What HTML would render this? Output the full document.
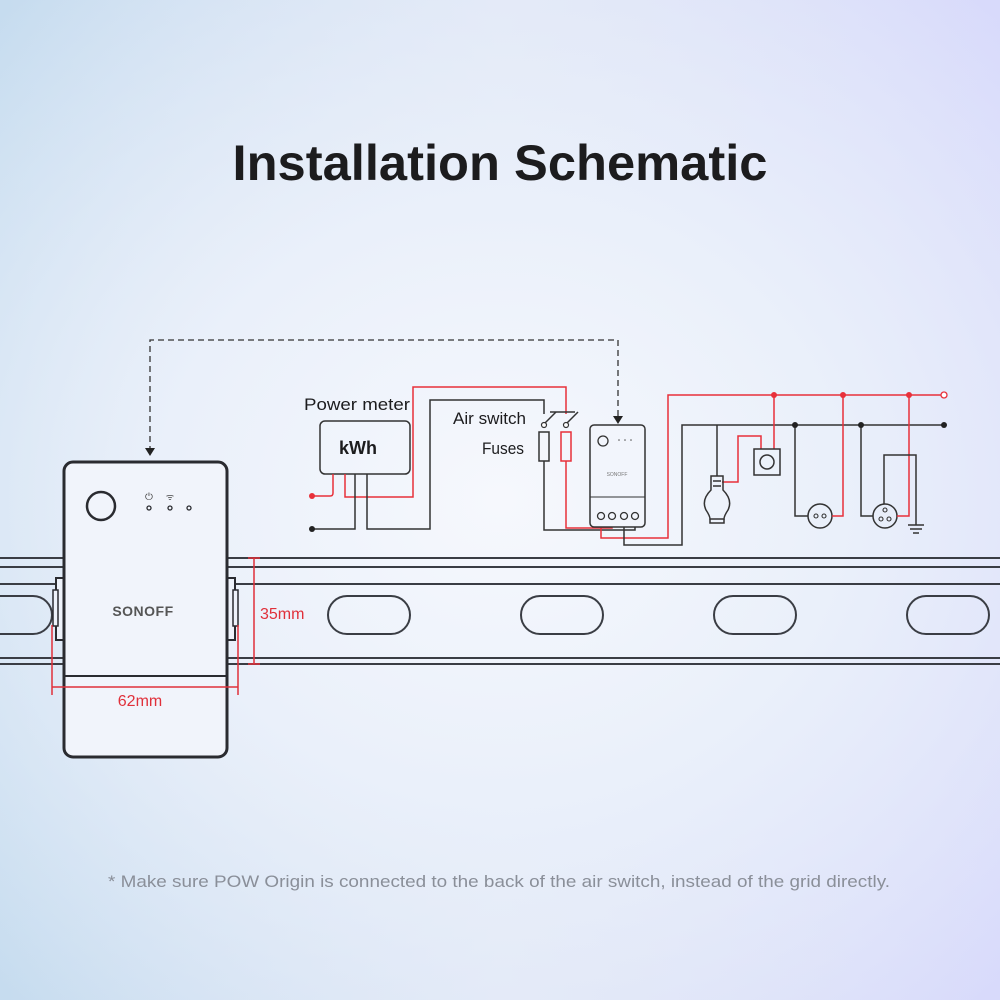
<!DOCTYPE html>
<html><head><meta charset="utf-8"><style>
html,body{margin:0;padding:0;width:1000px;height:1000px;overflow:hidden}
body{background:radial-gradient(ellipse 75% 65% at 50% 50%, #f6f8fd 0%, #eaf0fa 45%, rgba(234,240,250,0) 100%), linear-gradient(90deg,#c6dcef 0%,#dfe6f6 50%,#d8dafb 100%)}
svg{display:block}
text{font-family:"Liberation Sans",sans-serif}
</style></head><body>
<svg width="1000" height="1000" viewBox="0 0 1000 1000" xmlns="http://www.w3.org/2000/svg">
<text x="500" y="180" text-anchor="middle" font-size="50" font-weight="bold" fill="#1c1c1e" textLength="535" lengthAdjust="spacingAndGlyphs">Installation Schematic</text>

<!-- DIN rail -->
<g stroke="#3a3d44" stroke-width="2" fill="none">
<line x1="0" y1="558" x2="1000" y2="558"/>
<line x1="0" y1="567" x2="1000" y2="567"/>
<line x1="0" y1="584" x2="1000" y2="584"/>
<line x1="0" y1="658" x2="1000" y2="658"/>
<line x1="0" y1="664" x2="1000" y2="664"/>
<rect x="328" y="596" width="82" height="38" rx="19"/>
<rect x="521" y="596" width="82" height="38" rx="19"/>
<rect x="714" y="596" width="82" height="38" rx="19"/>
<rect x="907" y="596" width="82" height="38" rx="19"/>
<path d="M0 596 H33 A19 19 0 0 1 33 634 H0"/>
</g>

<!-- big device -->
<g stroke="#2a2b30" fill="#eef2fa">
<rect x="56" y="578" width="8" height="62" stroke-width="2"/>
<rect x="53" y="590" width="5" height="36" stroke-width="1.5"/>
<rect x="227" y="578" width="8" height="62" stroke-width="2"/>
<rect x="233" y="590" width="5" height="36" stroke-width="1.5"/>
<rect x="64" y="462" width="163" height="295" rx="9" stroke-width="3" fill="#f1f4fb"/>
<line x1="64" y1="676" x2="227" y2="676" stroke-width="2"/>
<circle cx="101" cy="506" r="14" stroke-width="2.5" fill="none"/>
<circle cx="149" cy="508" r="2" stroke-width="1.3" fill="none"/>
<circle cx="170" cy="508" r="2" stroke-width="1.3" fill="none"/>
<circle cx="189" cy="508" r="2" stroke-width="1.3" fill="none"/>
</g>
<text x="149" y="500" font-size="10" text-anchor="middle" fill="#444">⏻</text>
<text x="170" y="500" font-size="9" text-anchor="middle" fill="#444">ᯤ</text>
<text x="143" y="616" font-size="14" font-weight="bold" text-anchor="middle" fill="#555" letter-spacing="0.5">SONOFF</text>

<!-- dimensions -->
<g stroke="#e0303a" stroke-width="1.5">
<line x1="254" y1="558" x2="254" y2="664"/>
<line x1="248" y1="558" x2="260" y2="558"/>
<line x1="248" y1="664" x2="260" y2="664"/>
<line x1="52" y1="625" x2="52" y2="695"/>
<line x1="238" y1="625" x2="238" y2="695"/>
<line x1="52" y1="687" x2="238" y2="687"/>
</g>
<text x="260" y="619" font-size="16" fill="#e0303a">35mm</text>
<text x="140" y="706" font-size="16" fill="#e0303a" text-anchor="middle">62mm</text>

<!-- dashed -->
<g stroke="#333" stroke-width="1.3" stroke-dasharray="6,4" fill="none">
<path d="M150 452 V340 H618 V416"/>
</g>
<path d="M145 448 L155 448 L150 456 Z M613 416 L623 416 L618 424 Z" fill="#222"/>

<!-- power meter -->
<text x="304" y="410" font-size="17" fill="#1c1c1e" textLength="106" lengthAdjust="spacingAndGlyphs">Power meter</text>
<rect x="320" y="421" width="90" height="53" rx="5" fill="none" stroke="#333" stroke-width="1.5"/>
<text x="358" y="454" font-size="18" font-weight="bold" fill="#1c1c1e" text-anchor="middle">kWh</text>
<text x="453" y="424" font-size="17" fill="#1c1c1e" textLength="73" lengthAdjust="spacingAndGlyphs">Air switch</text>
<text x="482" y="454" font-size="17" fill="#1c1c1e" textLength="42" lengthAdjust="spacingAndGlyphs">Fuses</text>

<g fill="none" stroke-width="1.5">
<path stroke="#e8303a" d="M312 496 H330 Q333 496 333 493 V474"/>
<path stroke="#e8303a" d="M345 474 V497 H413 V387 H566 V414"/>
<path stroke="#333" d="M312 529 H355 V474"/>
<path stroke="#333" d="M367 474 V529 H430 V400 H544 V414"/>
<path stroke="#333" d="M544 424 L556 412"/>
<path stroke="#333" d="M566 424 L578 412"/>
<line stroke="#333" x1="550" y1="412" x2="575" y2="412"/>
<rect stroke="#333" x="539" y="432" width="10" height="29"/>
<rect stroke="#e8303a" x="561" y="432" width="10" height="29"/>
<path stroke="#333" d="M544 461 V530 H635 V520"/>
<path stroke="#e8303a" d="M566 461 V528 H612 V520"/>
<path stroke="#e8303a" d="M601 520 V538 H668 V395 H941"/>
<path stroke="#333" d="M624 520 V545 H682 V425 H944"/>
</g>
<circle cx="312" cy="496" r="3" fill="#e8303a"/>
<circle cx="312" cy="529" r="3" fill="#222"/>
<circle cx="544" cy="425" r="2.5" fill="#fff" stroke="#333" stroke-width="1.2"/>
<circle cx="566" cy="425" r="2.5" fill="#fff" stroke="#333" stroke-width="1.2"/>

<!-- small device -->
<rect x="590" y="425" width="55" height="102" rx="4" fill="#f2f5fc" stroke="#333" stroke-width="1.5"/>
<line x1="590" y1="497" x2="645" y2="497" stroke="#333" stroke-width="1"/>
<circle cx="603" cy="441" r="5" fill="none" stroke="#333" stroke-width="1.3"/>
<g fill="#555"><circle cx="619" cy="440" r="0.8"/><circle cx="625" cy="440" r="0.8"/><circle cx="631" cy="440" r="0.8"/></g>
<text x="617" y="476" font-size="5" text-anchor="middle" fill="#777">SONOFF</text>
<g fill="#f2f5fc" stroke="#333" stroke-width="1.3">
<circle cx="601" cy="516" r="3.5"/><circle cx="612" cy="516" r="3.5"/><circle cx="624" cy="516" r="3.5"/><circle cx="635" cy="516" r="3.5"/>
</g>

<!-- loads -->
<g fill="none" stroke-width="1.5">
<path stroke="#333" d="M717 425 V476"/>
<path stroke="#e8303a" d="M722 482 H738 V436 H761 V449"/>
<path stroke="#e8303a" d="M774 395 V449"/>
<rect stroke="#333" x="754" y="449" width="26" height="26"/>
<circle stroke="#333" cx="767" cy="462" r="7"/>
<path stroke="#333" d="M711 476 H723 V490 Q733 500 728 510 Q724 516 724 519 H710 Q710 516 706 510 Q701 500 711 490 Z"/>
<path stroke="#333" d="M713 481 H721 M713 486 H721 M710 519 V523 H724 V519"/>
<path stroke="#333" d="M795 425 V516 H808"/>
<circle stroke="#333" cx="820" cy="516" r="12"/>
<path stroke="#e8303a" d="M843 395 V516 H832"/>
<path stroke="#333" d="M861 425 V516 H873"/>
<circle stroke="#333" cx="885" cy="516" r="12"/>
<path stroke="#e8303a" d="M909 395 V516 H897"/>
<path stroke="#333" d="M884 504 V455 H916 V525"/>
<path stroke="#333" d="M908 525 H924 M910 529 H922 M913 533 H919"/>
</g>
<g fill="none" stroke="#333" stroke-width="1.1">
<circle cx="816" cy="516" r="2"/><circle cx="824" cy="516" r="2"/>
<circle cx="885" cy="510" r="2"/><circle cx="881" cy="519" r="2"/><circle cx="889" cy="519" r="2"/>
</g>
<g fill="#e8303a"><circle cx="774" cy="395" r="3"/><circle cx="843" cy="395" r="3"/><circle cx="909" cy="395" r="3"/></g>
<circle cx="944" cy="395" r="3" fill="#fff" stroke="#e8303a" stroke-width="1.3"/>
<g fill="#222"><circle cx="795" cy="425" r="3"/><circle cx="861" cy="425" r="3"/><circle cx="944" cy="425" r="3"/></g>

<text x="108" y="887" font-size="17" fill="#8a8f99" textLength="782" lengthAdjust="spacingAndGlyphs">* Make sure POW Origin is connected to the back of the air switch, instead of the grid directly.</text>
</svg>
</body></html>
